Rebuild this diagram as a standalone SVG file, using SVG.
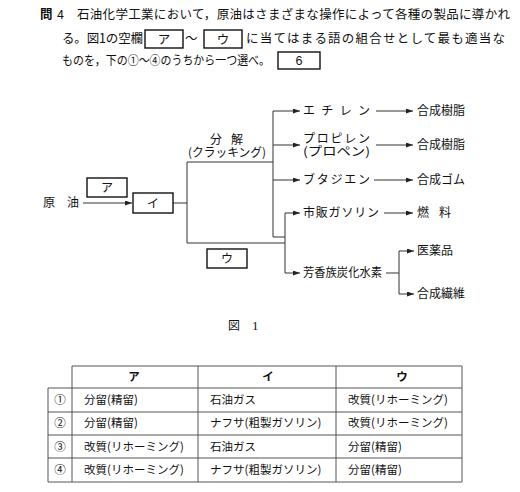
<svg xmlns="http://www.w3.org/2000/svg" width="520" height="492" viewBox="0 0 520 492">
<style>
text{font-family:"Noto Sans CJK JP","Noto Sans",sans-serif;fill:#111}
.h{font-size:12.5px}
.d{font-size:12px}
.t{font-size:11.5px}
.box{fill:#fff;stroke:#111;stroke-width:1.4}
.ln{fill:none;stroke:#333;stroke-width:1}
.tb{fill:none;stroke:#555;stroke-width:1}
.c{text-anchor:middle}
</style>
<defs>
<marker id="ah" markerWidth="7" markerHeight="5" refX="7" refY="2.5" orient="auto" markerUnits="userSpaceOnUse">
<path d="M0,0 L7,2.5 L0,5 Z" fill="#222"/>
</marker>
</defs>

<g id="question">
<text class="h" x="40" y="19" font-weight="bold">問</text>
<text class="h" x="57" y="19">4</text>
<text class="h" x="77" y="19" textLength="433" lengthAdjust="spacing">石油化学工業において，原油はさまざまな操作によって各種の製品に導かれ</text>
<text class="h" x="62" y="43" textLength="81" lengthAdjust="spacing">る。図1の空欄</text>
<rect class="box" x="145" y="30" width="38" height="18"/>
<text class="h c" x="164" y="43.5">ア</text>
<text class="h" x="185" y="43">～</text>
<rect class="box" x="204" y="30" width="38" height="18"/>
<text class="h c" x="223" y="43.5">ウ</text>
<text class="h" x="246" y="43" textLength="259" lengthAdjust="spacing">に当てはまる語の組合せとして最も適当な</text>
<text class="h" x="62" y="65" textLength="208" lengthAdjust="spacingAndGlyphs">ものを，下の①～④のうちから一つ選べ。</text>
<rect class="box" x="278" y="52" width="42" height="17"/>
<text class="h c" x="299" y="65" style="font-family:'Liberation Sans',sans-serif">6</text>
</g>

<g id="connectors">
<path class="ln" d="M83 203 H132" marker-end="url(#ah)"/>
<path class="ln" d="M173 203 H187 M187 162 V243 M187 162 H273 M273 111 V237 H285 M187 243 H285 M285 213 V273"/>
<path class="ln" d="M273 111 H300" marker-end="url(#ah)"/>
<path class="ln" d="M273 145 H300" marker-end="url(#ah)"/>
<path class="ln" d="M273 180 H300" marker-end="url(#ah)"/>
<path class="ln" d="M285 213 H300" marker-end="url(#ah)"/>
<path class="ln" d="M285 273 H300" marker-end="url(#ah)"/>
<path class="ln" d="M376 111 H413" marker-end="url(#ah)"/>
<path class="ln" d="M376 145 H413" marker-end="url(#ah)"/>
<path class="ln" d="M374 180 H413" marker-end="url(#ah)"/>
<path class="ln" d="M384 213 H413" marker-end="url(#ah)"/>
<path class="ln" d="M386 273 H399 M399 251 V294"/>
<path class="ln" d="M399 251 H414" marker-end="url(#ah)"/>
<path class="ln" d="M399 294 H414" marker-end="url(#ah)"/>
</g>

<g id="crude">
<text class="d" x="43" y="207" textLength="36" lengthAdjust="spacing">原油</text>
</g>
<g id="a-box">
<rect class="box" x="87" y="178" width="40" height="19"/>
<text class="d c" x="107" y="192">ア</text>
</g>
<g id="i-box">
<rect class="box" x="133" y="193" width="40" height="20"/>
<text class="d c" x="153" y="207.5">イ</text>
</g>
<g id="u-box">
<rect class="box" x="207" y="249" width="40" height="19"/>
<text class="d c" x="227" y="263">ウ</text>
</g>
<g id="cracking">
<text class="d" x="210" y="144" textLength="33" lengthAdjust="spacing">分解</text>
<text class="d" x="188" y="157" textLength="78" lengthAdjust="spacingAndGlyphs">(クラッキング)</text>
</g>
<g id="ethylene">
<text class="d" x="303" y="115" textLength="67" lengthAdjust="spacing">エチレン</text>
</g>
<g id="propylene">
<text class="d" x="303" y="143" textLength="67" lengthAdjust="spacing">プロピレン</text>
<text class="d" x="303" y="156" textLength="67" lengthAdjust="spacingAndGlyphs">(プロペン)</text>
</g>
<g id="butadiene">
<text class="d" x="303" y="184" textLength="67" lengthAdjust="spacing">ブタジエン</text>
</g>
<g id="gasoline">
<text class="d" x="303" y="217" textLength="76" lengthAdjust="spacing">市販ガソリン</text>
</g>
<g id="aromatic">
<text class="d" x="303" y="277" textLength="79" lengthAdjust="spacingAndGlyphs">芳香族炭化水素</text>
</g>
<g id="resin1"><text class="d" x="417" y="115">合成樹脂</text></g>
<g id="resin2"><text class="d" x="417" y="149">合成樹脂</text></g>
<g id="rubber"><text class="d" x="417" y="184">合成ゴム</text></g>
<g id="fuel"><text class="d" x="417" y="217" textLength="34" lengthAdjust="spacing">燃料</text></g>
<g id="medicine"><text class="d" x="417" y="255">医薬品</text></g>
<g id="fiber"><text class="d" x="417" y="298">合成繊維</text></g>

<g id="caption">
<text class="d" x="228" y="330">図</text>
<text x="252" y="330" style="font-family:'Liberation Serif',serif;font-size:13px">1</text>
</g>

<g id="table">
<path class="tb" d="M72 366 H462 V482 H48 V388 H462 M48 412 H462 M48 435 H462 M48 458 H462 M72 366 V482 M198 366 V482 M336 366 V482"/>
<text class="t c" x="134" y="381" font-weight="bold">ア</text>
<text class="t c" x="268" y="381" font-weight="bold">イ</text>
<text class="t c" x="402" y="381" font-weight="bold">ウ</text>
<text class="t c" x="60" y="404" font-size="13">①</text>
<text class="t c" x="60" y="427" font-size="13">②</text>
<text class="t c" x="60" y="451" font-size="13">③</text>
<text class="t c" x="60" y="474" font-size="13">④</text>
<text class="t" x="84" y="404">分留(精留)</text>
<text class="t" x="84" y="427">分留(精留)</text>
<text class="t" x="84" y="451">改質(リホーミング)</text>
<text class="t" x="84" y="474">改質(リホーミング)</text>
<text class="t" x="210" y="404">石油ガス</text>
<text class="t" x="210" y="427">ナフサ(粗製ガソリン)</text>
<text class="t" x="210" y="451">石油ガス</text>
<text class="t" x="210" y="474">ナフサ(粗製ガソリン)</text>
<text class="t" x="348" y="404">改質(リホーミング)</text>
<text class="t" x="348" y="427">改質(リホーミング)</text>
<text class="t" x="348" y="451">分留(精留)</text>
<text class="t" x="348" y="474">分留(精留)</text>
</g>
</svg>
